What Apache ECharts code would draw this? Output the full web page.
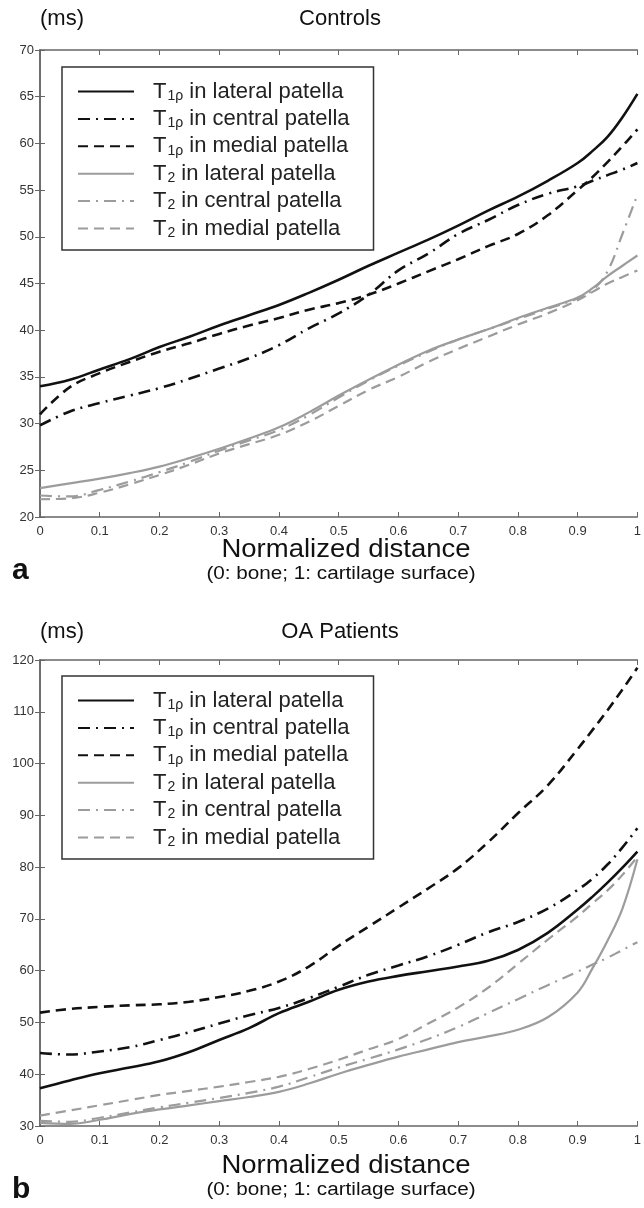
<!DOCTYPE html>
<html>
<head>
<meta charset="utf-8">
<script src="https://cdn.jsdelivr.net/npm/echarts@6/dist/echarts.min.js"></script>
<style>html,body{margin:0;background:#fff}#main{width:644px;height:1208px}</style>
</head>
<body>
<div id="main"></div>
<script>
// normalized distance (0: bone, 1: cartilage surface)
var xs = [0, 0.05, 0.1, 0.15, 0.2, 0.25, 0.3, 0.35, 0.4, 0.45, 0.5, 0.55, 0.6, 0.65, 0.7, 0.75, 0.8, 0.85, 0.9, 0.925, 0.95, 0.975, 1];
var xTicks = ['0', '0.1', '0.2', '0.3', '0.4', '0.5', '0.6', '0.7', '0.8', '0.9', '1'];

// (a) Controls, ms
var ctlT1Lat = [34.0, 34.7, 35.8, 36.9, 38.2, 39.3, 40.5, 41.6, 42.7, 44.0, 45.4, 46.9, 48.3, 49.7, 51.2, 52.8, 54.3, 56.0, 57.9, 59.2, 60.7, 62.8, 65.3];
var ctlT1Cen = [29.8, 31.3, 32.2, 33.0, 33.8, 34.8, 35.9, 37.0, 38.4, 40.2, 41.8, 43.8, 46.4, 48.2, 50.3, 51.8, 53.4, 54.6, 55.4, 56.0, 56.6, 57.2, 57.9];
var ctlT1Med = [31.0, 33.9, 35.4, 36.6, 37.7, 38.6, 39.6, 40.5, 41.3, 42.2, 42.9, 43.8, 45.0, 46.3, 47.6, 49.0, 50.3, 52.3, 55.0, 56.4, 58.0, 59.7, 61.5];
var ctlT2Lat = [23.1, 23.6, 24.1, 24.7, 25.4, 26.3, 27.3, 28.4, 29.6, 31.2, 33.0, 34.7, 36.3, 37.8, 39.0, 40.1, 41.3, 42.4, 43.5, 44.5, 45.8, 46.9, 48.0];
var ctlT2Cen = [22.3, 22.2, 22.9, 23.8, 24.8, 25.9, 27.1, 28.2, 29.3, 30.9, 32.8, 34.6, 36.2, 37.7, 39.0, 40.1, 41.2, 42.3, 43.4, 44.3, 46.3, 50.3, 54.5];
var ctlT2Med = [21.9, 22.0, 22.6, 23.5, 24.5, 25.6, 26.8, 27.8, 28.8, 30.2, 31.9, 33.6, 35.0, 36.6, 38.0, 39.3, 40.6, 41.8, 43.2, 44.1, 45.0, 45.7, 46.4];

// (b) OA patients, ms
var oaT1Lat = [37.3, 38.8, 40.2, 41.3, 42.5, 44.3, 46.6, 48.9, 51.8, 54.0, 56.3, 57.9, 59.0, 59.9, 60.8, 61.9, 64.0, 67.3, 71.8, 74.3, 77.0, 79.9, 83.0];
var oaT1Cen = [44.1, 43.8, 44.4, 45.2, 46.6, 48.1, 49.8, 51.4, 52.8, 54.7, 56.9, 59.2, 61.0, 62.8, 65.0, 67.4, 69.4, 72.0, 75.6, 77.8, 80.5, 83.8, 87.5];
var oaT1Med = [51.9, 52.6, 53.0, 53.3, 53.5, 54.0, 54.9, 56.1, 57.9, 60.8, 64.8, 68.5, 72.2, 75.9, 79.8, 84.8, 90.4, 95.8, 102.8, 106.5, 110.3, 114.3, 118.5];
var oaT2Lat = [30.6, 30.4, 31.2, 32.3, 33.2, 34.0, 34.8, 35.6, 36.6, 38.2, 40.1, 41.8, 43.4, 44.8, 46.2, 47.3, 48.6, 51.0, 55.8, 60.5, 65.8, 72.0, 81.5];
var oaT2Cen = [31.0, 30.8, 31.6, 32.6, 33.6, 34.5, 35.4, 36.4, 37.6, 39.4, 41.3, 43.0, 44.8, 46.8, 49.1, 51.8, 54.5, 57.2, 59.8, 61.2, 62.5, 64.0, 65.5];
var oaT2Med = [32.0, 33.0, 34.0, 35.0, 36.0, 36.8, 37.6, 38.5, 39.5, 41.0, 42.8, 44.8, 46.8, 49.8, 52.9, 56.7, 61.3, 66.0, 70.5, 73.0, 75.5, 78.5, 82.0];

var names = ['T1ρ in lateral patella', 'T1ρ in central patella', 'T1ρ in medial patella',
             'T2 in lateral patella', 'T2 in central patella', 'T2 in medial patella'];

var dom = document.getElementById('main');
var myChart = echarts.init(dom);

var BLACK = '#111', GRAY = '#9c9c9c';
var DASH = [10, 6], DASHDOT = [12, 6, 2, 6];
var styles = [
  { color: BLACK, width: 2.6, type: 'solid' },
  { color: BLACK, width: 2.6, type: DASHDOT },
  { color: BLACK, width: 2.6, type: DASH },
  { color: GRAY, width: 2.2, type: 'solid' },
  { color: GRAY, width: 2.2, type: DASHDOT },
  { color: GRAY, width: 2.2, type: DASH }
];

function pairs(vals) {
  return xs.map(function (x, i) { return [x, vals[i]]; });
}

function makeSeries(list, axisIdx) {
  return list.map(function (vals, i) {
    return {
      name: names[i], type: 'line', data: pairs(vals),
      xAxisIndex: axisIdx, yAxisIndex: axisIdx,
      showSymbol: false, symbol: 'none', smooth: 0.4,
      color: styles[i].color,
      lineStyle: styles[i], silent: true, z: 10 - i
    };
  });
}

function legendLabel(name) {
  var p = name.split(' in ');
  return '{g|}{m|T}{s|' + p[0].slice(1) + '}{m| in ' + p[1] + '}';
}

function legendAt(top) {
  return {
    orient: 'vertical', left: 62, top: top,
    padding: [13, 24, 10, 15],
    itemWidth: 56, itemHeight: 14, itemGap: 4.4,
    borderColor: '#333', borderWidth: 1.5, backgroundColor: '#fff',
    selectedMode: false,
    itemStyle: { color: 'transparent', borderWidth: 0, opacity: 0 },
    data: names, formatter: legendLabel,
    textStyle: {
      rich: {
        g: { width: 14 },
        m: { fontSize: 22, fontFamily: 'Liberation Sans', color: '#222', lineHeight: 22 },
        s: { fontSize: 14, fontFamily: 'Liberation Sans', color: '#222', lineHeight: 14, padding: [9, 0, 0, 1] }
      }
    }
  };
}

var axisCol = '#666';
function xAxisPair(gi) {
  return [
    { type: 'value', gridIndex: gi, min: 0, max: 1, interval: 0.1, position: 'bottom',
      axisLine: { lineStyle: { color: axisCol, width: 1.5 } },
      axisTick: { inside: true, length: 5, lineStyle: { color: axisCol } },
      splitLine: { show: false },
      axisLabel: { color: '#333', fontSize: 13, fontFamily: 'Liberation Sans', margin: 8,
        formatter: function (v) { return xTicks[Math.round(v * 10)]; } } },
    { type: 'value', gridIndex: gi, min: 0, max: 1, interval: 0.1, position: 'top',
      axisLine: { lineStyle: { color: axisCol, width: 1.5 } },
      axisTick: { inside: true, length: 5, lineStyle: { color: axisCol } },
      splitLine: { show: false }, axisLabel: { show: false } }
  ];
}
function yAxisPair(gi, min, max, step) {
  return [
    { type: 'value', gridIndex: gi, min: min, max: max, interval: step, position: 'left',
      axisLine: { show: true, lineStyle: { color: axisCol, width: 1.5 } },
      axisTick: { show: true, inside: true, length: 5, lineStyle: { color: axisCol } },
      splitLine: { show: false },
      axisLabel: { color: '#333', fontSize: 13, fontFamily: 'Liberation Sans', margin: 6 } },
    { type: 'value', gridIndex: gi, min: min, max: max, interval: step, position: 'right',
      axisLine: { show: true, lineStyle: { color: axisCol, width: 1.5 } },
      axisTick: { show: true, inside: true, length: 5, lineStyle: { color: axisCol } },
      splitLine: { show: false }, axisLabel: { show: false } }
  ];
}

var xAxes = xAxisPair(0).concat(xAxisPair(1));
var yAxes = yAxisPair(0, 20, 70, 5).concat(yAxisPair(1, 30, 120, 10));

function txt(x, y, text, size, align, weight, sx) {
  return { type: 'text', x: x, y: y, scaleX: sx || 1, style: {
    text: text, fontSize: size, fontFamily: 'Liberation Sans', fill: '#111',
    align: align || 'left', verticalAlign: 'middle', fontWeight: weight || 'normal' } };
}

option = {
  animation: false,
  backgroundColor: '#fff',
  grid: [
    { left: 40, top: 50, width: 600, height: 467 },
    { left: 40, top: 660, width: 600, height: 466 }
  ],
  xAxis: xAxes,
  yAxis: yAxes,
  legend: [legendAt(67), legendAt(676)],
  graphic: [
    txt(40, 19, '(ms)', 22), txt(340, 19, 'Controls', 22, 'center'),
    txt(346, 550, 'Normalized distance', 25, 'center', 'normal', 1.1),
    txt(341, 574, '(0: bone; 1: cartilage surface)', 18, 'center', 'normal', 1.15),
    txt(12, 571, 'a', 30, 'left', 'bold'),
    txt(40, 632, '(ms)', 22), txt(340, 632, 'OA Patients', 22, 'center'),
    txt(346, 1166, 'Normalized distance', 25, 'center', 'normal', 1.1),
    txt(341, 1190, '(0: bone; 1: cartilage surface)', 18, 'center', 'normal', 1.15),
    txt(12, 1190, 'b', 30, 'left', 'bold')
  ],
  // x/y axis 0-1 belong to grid 0, 2-3 to grid 1
  series: makeSeries([ctlT1Lat, ctlT1Cen, ctlT1Med, ctlT2Lat, ctlT2Cen, ctlT2Med], 0)
    .concat(makeSeries([oaT1Lat, oaT1Cen, oaT1Med, oaT2Lat, oaT2Cen, oaT2Med], 2))
};

if (option && typeof option === 'object') {
  myChart.setOption(option);
}
</script>
</body>
</html>
